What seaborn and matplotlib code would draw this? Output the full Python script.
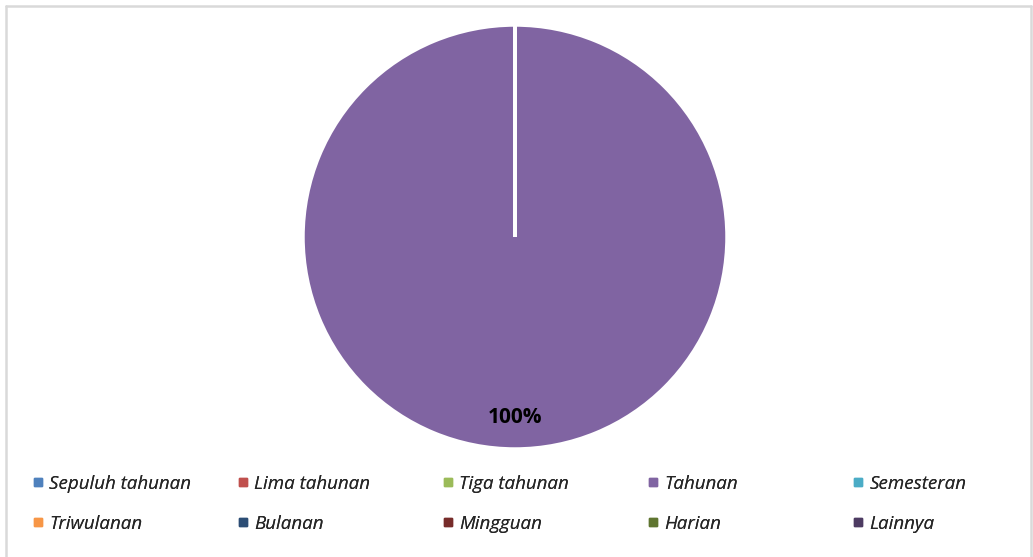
import numpy as np
import matplotlib
matplotlib.use('Agg')
import matplotlib.pyplot as plt
from matplotlib.lines import Line2D
import seaborn as sns

sns.set_theme(style='white')
plt.rcParams['font.family'] = ['Open Sans', 'DejaVu Sans']

# data
categories = ['Sepuluh tahunan', 'Lima tahunan', 'Tiga tahunan', 'Tahunan', 'Semesteran',
              'Triwulanan', 'Bulanan', 'Mingguan', 'Harian', 'Lainnya']
values = [0, 0, 0, 100, 0, 0, 0, 0, 0, 0]
colors = ['#4F81BD', '#C0504D', '#9BBB59', '#8064A2', '#4BACC6',
          '#F79646', '#2C4D75', '#772C2A', '#5F7530', '#4D3B62']

W, H = 1033, 557
fig = plt.figure(figsize=(W / 100, H / 100), dpi=100)

# pie axes: center (515, 237), radius 212 px
cx, cy, r = 515, 237, 212
ax = fig.add_axes([(cx - r) / W, (H - cy - r) / H, 2 * r / W, 2 * r / H])

def pct_label(p):
    return f'{p:.0f}%' if p > 0 else ''

wedges, texts, autotexts = ax.pie(values, colors=colors, startangle=90, counterclock=False,
                                  autopct=pct_label, pctdistance=0.85,
                                  wedgeprops=dict(edgecolor='white', linewidth=2.5))
for t in autotexts:
    t.set_fontsize(15)
    t.set_fontweight('bold')
    t.set_color('black')
ax.set_xlim(-1, 1)
ax.set_ylim(-1, 1)

# legend: 5 columns, row-wise order
fs = 13.5
col_x = [38, 243, 448, 653, 858]
for i, x in enumerate(col_x):
    idx = [i, i + 5]
    handles = [Line2D([], [], marker='s', linestyle='', color=colors[k], markersize=5.5) for k in idx]
    labels = [categories[k] for k in idx]
    leg = fig.legend(handles, labels, loc='upper left',
                     bbox_to_anchor=((x - 7.5) / W, 1 - 475 / H),
                     frameon=False, borderpad=0, borderaxespad=0,
                     handlelength=0.8, handletextpad=0.2, labelspacing=1.15,
                     prop=dict(size=fs, style='italic'))
    fig.add_artist(leg)

# chart area border (left, top, right)
border = '#D9D9D9'
fig.add_artist(Line2D([6 / W, 6 / W], [0, 1 - 6 / H], color=border, lw=1.8, transform=fig.transFigure))
fig.add_artist(Line2D([6 / W, 1031 / W], [1 - 6 / H, 1 - 6 / H], color=border, lw=1.8, transform=fig.transFigure))
fig.add_artist(Line2D([1031 / W, 1031 / W], [0, 1 - 6 / H], color=border, lw=1.8, transform=fig.transFigure))

fig.savefig('out.png', dpi=100, facecolor='white')
